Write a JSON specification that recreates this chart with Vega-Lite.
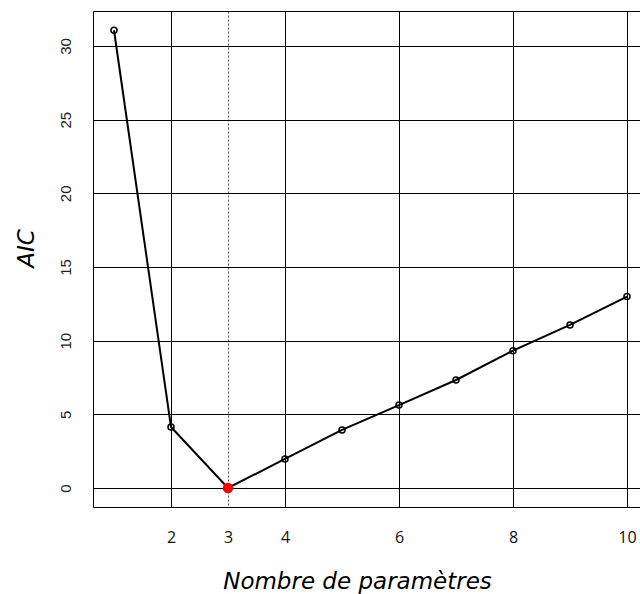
{
  "$schema": "https://vega.github.io/schema/vega-lite/v6.json",
  "width": 547,
  "height": 496,
  "autosize": "none",
  "padding": {"left": 93, "top": 11, "right": 0, "bottom": 87},
  "background": "white",
  "config": {"view": {"stroke": null}},
  "data": {"values": [
    {"k": 1, "aic": 31.07},
    {"k": 2, "aic": 4.14},
    {"k": 3, "aic": 0},
    {"k": 4, "aic": 1.97},
    {"k": 5, "aic": 3.94},
    {"k": 6, "aic": 5.63},
    {"k": 7, "aic": 7.33},
    {"k": 8, "aic": 9.32},
    {"k": 9, "aic": 11.07},
    {"k": 10, "aic": 12.99}
  ]},
  "layer": [
    {
      "mark": {"type": "line", "color": "black", "strokeWidth": 2},
      "encoding": {
        "x": {"field": "k", "type": "quantitative",
          "scale": {"domain": [0.6316, 10.228], "nice": false, "zero": false},
          "axis": {
            "orient": "bottom",
            "values": [2, 3, 4, 6, 8, 10],
            "grid": true,
            "gridColor": {"condition": {"test": "datum.value === 3", "value": "#555555"}, "value": "black"},
            "gridDash": {"condition": {"test": "datum.value === 3", "value": [2, 2]}, "value": []},
            "gridWidth": 1,
            "gridOpacity": 1,
            "domain": true, "domainColor": "black", "domainWidth": 1,
            "ticks": false, "tickSize": 0,
            "labelFont": "Open Sans", "labelFontSize": 16, "labelColor": "#111111",
            "labelBaseline": "alphabetic", "labelPadding": 35,
            "title": "Nombre de paramètres",
            "titleFont": "DejaVu Sans", "titleFontStyle": "italic", "titleFontWeight": "normal",
            "titleFontSize": 23, "titleColor": "black",
            "titleX": 264, "titleY": 81, "titleAlign": "center", "titleBaseline": "alphabetic"
          }
        },
        "y": {"field": "aic", "type": "quantitative",
          "scale": {"domain": [-1.29, 32.376], "nice": false, "zero": false},
          "axis": {
            "values": [0, 5, 10, 15, 20, 25, 30],
            "grid": true, "gridColor": "black", "gridWidth": 1, "gridOpacity": 1,
            "domain": true, "domainColor": "black", "domainWidth": 1,
            "ticks": false, "tickSize": 0,
            "labelFont": "Liberation Sans", "labelFontSize": 15, "labelColor": "#222222",
            "labelAngle": -90, "labelAlign": "center", "labelBaseline": "middle", "labelPadding": 28,
            "title": "AIC",
            "titleFont": "DejaVu Sans", "titleFontStyle": "italic", "titleFontWeight": "normal",
            "titleFontSize": 23, "titleColor": "black",
            "titleAngle": -90, "titleX": -60, "titleY": 237, "titleAlign": "center", "titleBaseline": "alphabetic"
          }
        }
      }
    },
    {
      "mark": {"type": "point", "shape": "circle", "filled": false, "color": "black", "size": 36, "strokeWidth": 1.5, "opacity": 1},
      "encoding": {
        "x": {"field": "k", "type": "quantitative",
          "scale": {"domain": [0.6316, 10.228], "nice": false, "zero": false},
          "axis": {"orient": "top", "labels": false, "ticks": false, "grid": false, "domain": true, "domainColor": "black", "domainWidth": 1, "title": null}
        },
        "y": {"field": "aic", "type": "quantitative", "axis": null}
      }
    },
    {
      "transform": [{"filter": "datum.k === 3"}],
      "mark": {"type": "point", "shape": "circle", "filled": true, "color": "red", "size": 110, "opacity": 1},
      "encoding": {
        "x": {"field": "k", "type": "quantitative", "axis": null},
        "y": {"field": "aic", "type": "quantitative", "axis": null}
      }
    }
  ],
  "resolve": {"axis": {"x": "independent", "y": "independent"}}
}
